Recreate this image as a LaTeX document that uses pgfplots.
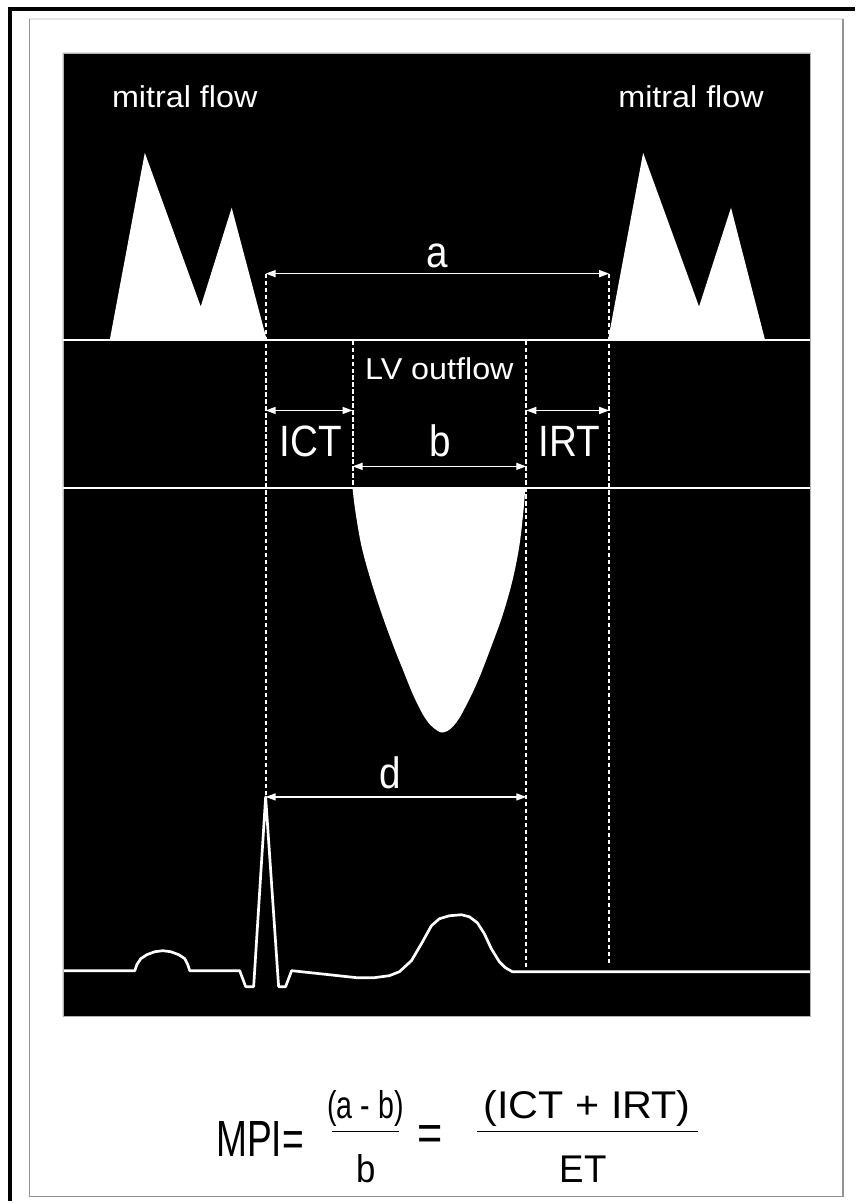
\documentclass[border=0pt]{standalone}
\usepackage{pgfplots}
\pgfplotsset{compat=1.18}
\usepackage{fontspec}
\setmainfont{Liberation Sans}
\usetikzlibrary{arrows.meta}
\begin{document}
\begin{tikzpicture}
\begin{axis}[
  at={(0,0)}, anchor=south west,
  width=85.6mm, height=120.3mm, scale only axis,
  xmin=0, xmax=856, ymin=0, ymax=1203, y dir=reverse,
  hide axis, clip=false, no markers,
]
% page background
\addplot[fill=white, draw=none] coordinates {(0,0) (856,0) (856,1203) (0,1203)};
% frames
\addplot[black, line width=0.33mm] coordinates {(856,9) (10,9) (10,1203)};
\addplot[gray!20, line width=0.12mm] coordinates {(29.5,19) (844,19)};
\addplot[gray!85, line width=0.15mm] coordinates {(29.5,19) (29.5,1198) (844,1198) (844,19)};
% black panel
\addplot[fill=black, draw=gray!60, line width=0.08mm] coordinates {(63,53) (812,53) (812,1018) (63,1018) (63,53)};
% mitral flow E/A waves
\addplot[fill=white, draw=none] coordinates {(110,340) (145,153) (201,307) (232,208) (267,340)};
\addplot[fill=white, draw=none] coordinates {(609,340) (644,153) (700,307) (732,208) (766,340)};
% baselines
\addplot[white, line width=0.2mm] coordinates {(63,340.5) (811,340.5)};
\addplot[white, line width=0.2mm] coordinates {(63,489) (811,489)};
% LV outflow envelope
\addplot[fill=white, draw=none, smooth, tension=0.55] coordinates {
 (353,489) (356,513) (362,547) (371,580) (382,614) (394,647) (404,672)
 (412,692) (419,707) (425,718) (431,726) (437,731) (442,733.5) (448,732)
 (454,727) (460,719) (466,708) (473,694) (481,676) (491,650) (503,617)
 (513,582) (520,547) (524,513) (526,489)};
% ECG
\addplot[white, line width=0.27mm, line join=round] coordinates {
 (64,972) (135,972) (137,966) (141,960) (147,956) (155,953) (163,952)
 (171,953) (179,956) (185,960) (188,966) (190,972) (240,972) (246,988)
 (254,988) (266,798) (279,988) (286,988) (292,972) (320,975) (357,979)
 (375,979) (390,977) (400,973) (412,962) (422,945) (432,927) (440,920)
 (450,917) (462,916) (470,918) (478,924) (485,935) (492,950) (500,963)
 (506,969) (513,973) (811,973)};
% dashed verticals
\addplot[white, line width=0.2mm, dash pattern=on 0.42mm off 0.28mm] coordinates {(266,274) (266,798)};
\addplot[white, line width=0.2mm, dash pattern=on 0.42mm off 0.28mm] coordinates {(353,341) (353,489)};
\addplot[white, line width=0.2mm, dash pattern=on 0.42mm off 0.28mm] coordinates {(527,341) (527,970)};
\addplot[white, line width=0.2mm, dash pattern=on 0.42mm off 0.28mm] coordinates {(610,274) (610,965)};
% interval arrows
\tikzset{iv/.style={white, line width=0.14mm, {Triangle[length=1mm,width=0.7mm]}-{Triangle[length=1mm,width=0.7mm]}}}
\addplot[iv] coordinates {(266,274) (610,274)};
\addplot[iv] coordinates {(266,411) (353,411)};
\addplot[iv] coordinates {(353,467) (527,467)};
\addplot[iv] coordinates {(527,411) (610,411)};
\addplot[iv] coordinates {(266,798) (527,798)};
% labels
\tikzset{sm/.style={white, anchor=base, inner sep=0pt, xscale=1.07, font=\fontsize{8.6}{9}\selectfont},
         bg/.style={white, anchor=base, inner sep=0pt, xscale=0.88, font=\fontsize{12.5}{14}\selectfont}}
\node[sm] at (axis cs:185,108) {mitral flow};
\node[sm] at (axis cs:692,108) {mitral flow};
\node[sm] at (axis cs:440,380) {LV outflow};
\node[bg] at (axis cs:438,268) {a};
\node[bg] at (axis cs:311,457) {ICT};
\node[bg] at (axis cs:441,457) {b};
\node[bg] at (axis cs:570,457) {IRT};
\node[bg] at (axis cs:391,790) {d};
% formula
\tikzset{fm/.style={black, inner sep=0pt, font=\fontsize{11}{13}\selectfont}}
\node[fm, anchor=base west, xscale=0.73, font=\fontsize{14.5}{16}\selectfont] at (axis cs:216,1158) {MPI=};
\node[fm, anchor=base, xscale=0.74] at (axis cs:366,1120) {(a - b)};
\node[fm, anchor=base, xscale=0.9] at (axis cs:367,1184) {b};
\node[fm, anchor=base, xscale=0.85, font=\fontsize{14.5}{16}\selectfont] at (axis cs:431,1152) {=};
\node[fm, anchor=base, xscale=1.07] at (axis cs:588,1120) {(ICT + IRT)};
\node[fm, anchor=base, xscale=0.95] at (axis cs:584,1184) {ET};
\addplot[black, line width=0.13mm] coordinates {(332,1133) (400,1133)};
\addplot[black, line width=0.13mm] coordinates {(478,1133) (699,1133)};
\end{axis}
\end{tikzpicture}
\end{document}
